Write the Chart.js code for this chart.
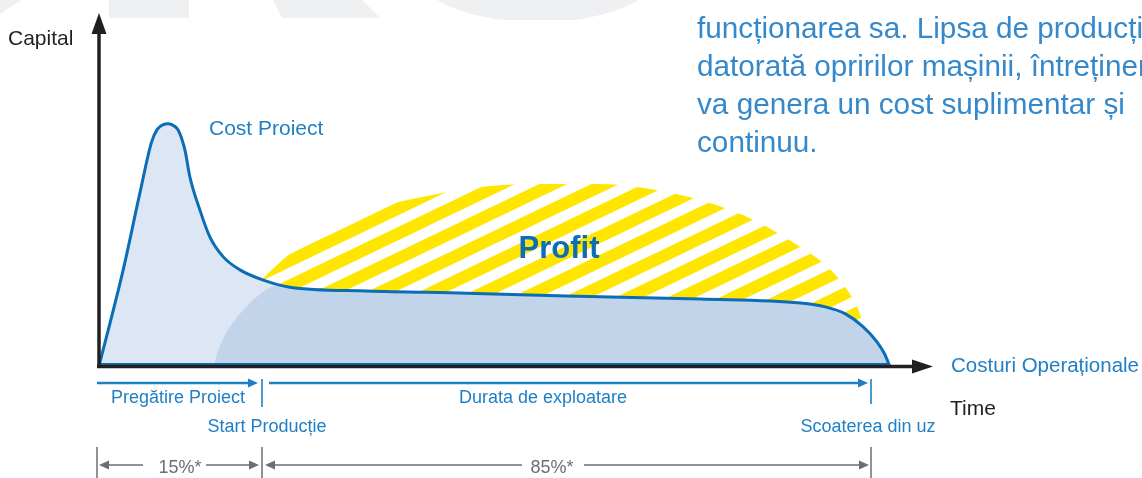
<!DOCTYPE html>
<html>
<head>
<meta charset="utf-8">
<script src="https://cdn.jsdelivr.net/npm/chart.js@4.4.1/dist/chart.umd.min.js"></script>
<style>
  html, body { margin: 0; padding: 0; background: #fff; }
  #wrap { width: 1142px; height: 478px; }
</style>
</head>
<body>
<div id="wrap"><canvas id="lifecycleChart" width="1142" height="478"></canvas></div>
<script>
// time runs 0..100 along the x axis, capital 0..100 up the y axis
const costTime   = [0, 2.9, 4.9, 6.3, 7.0, 7.7, 8.3, 9.0, 9.5, 10.3, 10.9, 12.1, 13.3, 14.9, 16.9, 19.7, 22.9, 32.1, 44.1, 56.1, 72.1, 84.1, 87.1, 89.5, 91.5, 93.3, 94.2, 94.8];
const costValue  = [0, 27.3, 49.1, 63.6, 67.3, 68.6, 68.8, 68.2, 67.0, 61.4, 53.7, 44.3, 36.6, 31.0, 27.3, 24.4, 22.4, 21.3, 20.7, 19.9, 19.0, 17.9, 16.8, 14.8, 11.4, 6.8, 3.4, 0];

// operational costs area (darker blue)
const opsTime    = [13.7, 14.5, 15.7, 17.3, 18.9, 21.3, 22.9, 32.1, 44.1, 56.1, 72.1, 84.1, 87.1, 89.5, 91.5, 93.3, 94.2, 94.8];
const opsValue   = [0, 5.7, 11.1, 15.9, 19.6, 22.7, 22.4, 21.3, 20.7, 19.9, 19.0, 17.9, 16.8, 14.8, 11.4, 6.8, 3.4, 0];

// profit dome (top edge of the striped area)
const profitTime  = [19.1, 21.7, 24.1, 28.1, 33.7, 40.0, 44.8, 52.0, 60.1, 68.1, 74.1, 77.2, 80.8, 84.1, 86.8, 89.1, 90.9, 91.5];
const profitValue = [23.6, 29.5, 33.8, 39.5, 45.2, 48.6, 50.6, 51.7, 51.7, 49.4, 45.7, 42.9, 38.6, 33.8, 29.3, 23.6, 16.8, 13.1];

// phase markers along the time axis
const phaseLabels = ['Pregătire Proiect', 'Durata de exploatare'];
const markerLabels = ['Start Producție', 'Scoaterea din uz'];
const shareLabels = ['15%*', '85%*'];

const BLUE = '#0a6db5';
const TEXT_BLUE = '#1f7fc4';
const DARK = '#231f20';
const GREY = '#6d6e70';
const FONT = '"Liberation Sans", Arial, sans-serif';

const pts = (xs, ys) => xs.map((x, i) => ({ x: x, y: ys[i] }));

const canvas = document.getElementById('lifecycleChart');
const ctx = canvas.getContext('2d');

// yellow / white diagonal stripes for the profit area
function stripes() {
    const w = 52, h = 25;
    const c = document.createElement('canvas');
    c.width = w; c.height = h;
    const g = c.getContext('2d');
    g.fillStyle = '#ffffff';
    g.fillRect(0, 0, w, h);
    g.strokeStyle = '#ffe600';
    g.lineWidth = 12;
    for (let k = -1; k <= 1; k++) {
        g.beginPath();
        g.moveTo(k * w - w, 2 * h);
        g.lineTo(k * w + 2 * w, -h);
        g.stroke();
    }
    return ctx.createPattern(c, 'repeat');
}

function arrowHead(c, tipX, tipY, dir, len, half) {
    c.beginPath();
    if (dir === 'up') {
        c.moveTo(tipX, tipY); c.lineTo(tipX - half, tipY + len); c.lineTo(tipX + half, tipY + len);
    } else if (dir === 'right') {
        c.moveTo(tipX, tipY); c.lineTo(tipX - len, tipY - half); c.lineTo(tipX - len, tipY + half);
    } else {
        c.moveTo(tipX, tipY); c.lineTo(tipX + len, tipY - half); c.lineTo(tipX + len, tipY + half);
    }
    c.closePath();
    c.fill();
}

function line(c, x1, y1, x2, y2) {
    c.beginPath(); c.moveTo(x1, y1); c.lineTo(x2, y2); c.stroke();
}

const diagram = {
    id: 'diagram',
    beforeDraw(chart) {
        const c = chart.ctx;
        c.save();
        c.fillStyle = '#ffffff';
        c.fillRect(0, 0, chart.width, chart.height);
        // faint watermark letters at the top edge
        c.fillStyle = '#eff0f2';
        c.beginPath(); c.moveTo(0, 0); c.lineTo(22, 0); c.quadraticCurveTo(10, 7, 0, 14); c.closePath(); c.fill();
        c.fillRect(109, 0, 80, 18);
        c.beginPath(); c.moveTo(273, 0); c.lineTo(362, 0); c.lineTo(380, 18); c.lineTo(282, 18); c.closePath(); c.fill();
        c.save();
        c.beginPath(); c.rect(0, 0, chart.width, 20); c.clip();
        c.beginPath(); c.ellipse(538, -22, 116, 44, 0, 0, Math.PI * 2); c.fill();
        c.restore();
        c.restore();
    },
    afterDatasetsDraw(chart) {
        const c = chart.ctx;
        const xs = chart.scales.x, ys = chart.scales.y;
        const x0 = xs.getPixelForValue(0), y0 = ys.getPixelForValue(0);
        c.save();

        // blue base edge of the cost area
        c.strokeStyle = BLUE; c.lineWidth = 2;
        line(c, x0, y0 - 2, xs.getPixelForValue(costTime[costTime.length - 1]), y0 - 2);

        // axes
        c.strokeStyle = DARK; c.fillStyle = DARK; c.lineWidth = 3.5;
        line(c, x0, y0 + 2, x0, 32);
        arrowHead(c, x0, 13, 'up', 21, 7.5);
        line(c, x0 - 2, y0 + 0.5, 914, y0 + 0.5);
        arrowHead(c, 933, y0 + 0.5, 'right', 21, 7);

        c.textBaseline = 'middle';
        c.font = '21px ' + FONT;
        c.textAlign = 'left';
        c.fillText('Capital', 8, 39);
        c.fillText('Time', 950, 409);

        c.fillStyle = TEXT_BLUE;
        c.fillText('Cost Proiect', 209, 129);
        c.font = '20.5px ' + FONT;
        c.fillText('Costuri Operaționale', 951, 366);

        c.fillStyle = BLUE;
        c.textAlign = 'center';
        c.font = 'bold 31px ' + FONT;
        c.fillText('Profit', 559, 249);

        // phase arrows
        c.strokeStyle = TEXT_BLUE; c.fillStyle = TEXT_BLUE; c.lineWidth = 2.7;
        line(c, 97, 383, 250, 383);
        arrowHead(c, 258, 383, 'right', 10, 4.5);
        line(c, 269, 383, 860, 383);
        arrowHead(c, 868, 383, 'right', 10, 4.5);
        c.lineWidth = 1.6;
        line(c, 262, 379, 262, 407);
        line(c, 871, 379, 871, 404);

        c.font = '18px ' + FONT;
        c.fillText(phaseLabels[0], 178, 398);
        c.fillText(phaseLabels[1], 543, 398);
        c.fillText(markerLabels[0], 267, 427);
        c.fillText(markerLabels[1], 868, 427);

        // share dimension lines
        c.strokeStyle = GREY; c.fillStyle = GREY; c.lineWidth = 1.5;
        [97, 262, 871].forEach(x => line(c, x, 447, x, 478));
        line(c, 105, 465, 143, 465);
        arrowHead(c, 99, 465, 'left', 10, 4.5);
        line(c, 206, 465, 250, 465);
        arrowHead(c, 259, 465, 'right', 10, 4.5);
        line(c, 273, 465, 522, 465);
        arrowHead(c, 265, 465, 'left', 10, 4.5);
        line(c, 584, 465, 860, 465);
        arrowHead(c, 869, 465, 'right', 10, 4.5);
        c.fillText(shareLabels[0], 180, 468);
        c.fillText(shareLabels[1], 552, 468);

        // paragraph text cut by the right edge
        c.fillStyle = '#3589cb';
        c.textAlign = 'left';
        c.textBaseline = 'alphabetic';
        const para = '{s}px "Liberation Sans", Arial, sans-serif';
        c.font = para.replace('{s}', 29);
        const w = c.measureText('va genera un cost suplimentar și').width;
        c.font = para.replace('{s}', (29 * 428 / w).toFixed(2));
        c.fillText('funcționarea sa. Lipsa de producție', 697, 38);
        c.fillText('datorată opririlor mașinii, întreținerea', 697, 76);
        c.fillText('va genera un cost suplimentar și', 697, 114);
        c.fillText('continuu.', 697, 152);
        c.restore();
    }
};

new Chart(ctx, {
    type: 'line',
    data: {
        datasets: [
            {
                label: 'Cost Proiect',
                data: pts(costTime, costValue),
                borderColor: BLUE,
                borderWidth: 3,
                borderJoinStyle: 'round',
                fill: false,
                cubicInterpolationMode: 'monotone',
                clip: false,
                order: 1
            },
            {
                label: 'Costuri Operaționale',
                data: pts(opsTime, opsValue),
                borderColor: 'rgba(0,0,0,0)',
                borderWidth: 0,
                backgroundColor: '#c2d4ea',
                fill: 'origin',
                cubicInterpolationMode: 'monotone',
                clip: false,
                order: 2
            },
            {
                label: 'Cost total',
                data: pts(costTime, costValue),
                borderColor: 'rgba(0,0,0,0)',
                borderWidth: 0,
                backgroundColor: '#dce6f4',
                fill: 'origin',
                cubicInterpolationMode: 'monotone',
                clip: false,
                order: 3
            },
            {
                label: 'Profit',
                data: pts(profitTime, profitValue),
                borderColor: 'rgba(0,0,0,0)',
                borderWidth: 0,
                backgroundColor: stripes(),
                fill: 'origin',
                cubicInterpolationMode: 'monotone',
                clip: false,
                order: 4
            }
        ]
    },
    options: {
        responsive: false,
        animation: false,
        devicePixelRatio: 1,
        layout: { padding: { left: 99, right: 209, top: 14, bottom: 112 } },
        elements: { point: { radius: 0 } },
        scales: {
            x: { type: 'linear', min: 0, max: 100, display: false },
            y: { min: 0, max: 100, display: false }
        },
        plugins: {
            legend: { display: false },
            tooltip: { enabled: false }
        }
    },
    plugins: [diagram]
});
</script>
</body>
</html>
